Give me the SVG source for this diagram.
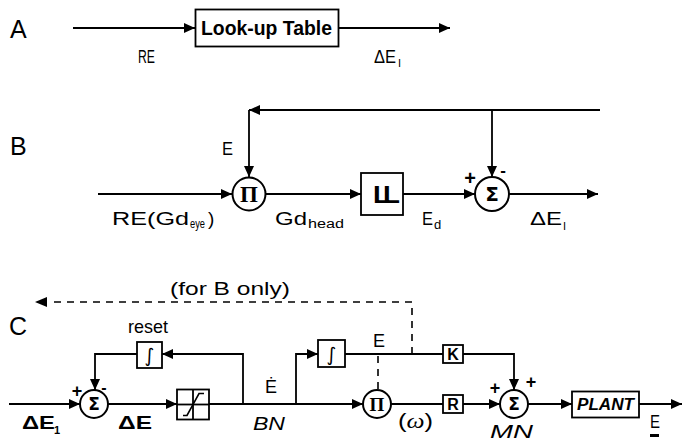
<svg xmlns="http://www.w3.org/2000/svg" width="683" height="443" viewBox="0 0 683 443">
<defs>
<marker id="ah" markerUnits="userSpaceOnUse" markerWidth="12" markerHeight="10" refX="11" refY="5" orient="auto">
<path d="M0,0 L11,5 L0,10 z" fill="#000"/>
</marker>
<style>
.ln{fill:none;stroke:#000;stroke-width:1.8}
.ar{fill:none;stroke:#000;stroke-width:1.8;marker-end:url(#ah)}
.da{fill:none;stroke:#000;stroke-width:1.6;stroke-dasharray:7 6}
.bx{fill:#fff;stroke:#000;stroke-width:1.8}
.ci{fill:#fff;stroke:#000;stroke-width:2}
.t{font-family:"Liberation Sans","DejaVu Sans",sans-serif;fill:#000}
.hd{font-size:25px}
.lb{font-size:19px}
.sb{font-size:12px}
.bd{font-weight:bold}
.it{font-style:italic}
.sym{font-family:"DejaVu Sans","Liberation Sans",sans-serif;fill:#000}
.pi{font-family:"Liberation Serif","DejaVu Serif",serif;font-weight:bold;fill:#000}
</style>
</defs>

<g id="connectors">
<line class="ar" x1="73" y1="28" x2="195" y2="28"/>
<line class="ar" x1="338" y1="28" x2="450" y2="28"/>
<line class="ar" x1="98" y1="194" x2="232" y2="194"/>
<line class="ar" x1="265" y1="194" x2="361" y2="194"/>
<line class="ar" x1="403" y1="194" x2="475" y2="194"/>
<line class="ar" x1="509" y1="194" x2="598" y2="194"/>
<line class="ar" x1="600" y1="110" x2="249" y2="110"/>
<line class="ar" x1="249" y1="110" x2="249" y2="177"/>
<line class="ar" x1="492" y1="110" x2="492" y2="177"/>
<line class="ar" x1="9" y1="404" x2="80" y2="404"/>
<line class="ar" x1="108" y1="404" x2="177" y2="404"/>
<line class="ar" x1="209" y1="404" x2="363" y2="404"/>
<polyline class="ar" points="243,404 243,354 162,354"/>
<polyline class="ar" points="137,354 95,354 95,390"/>
<polyline class="ar" points="296,404 296,354 318,354"/>
<line class="ln" x1="345" y1="354" x2="443" y2="354"/>
<polyline class="ar" points="463,354 514,354 514,390"/>
<line class="ln" x1="391" y1="404" x2="443" y2="404"/>
<line class="ar" x1="463" y1="404" x2="500" y2="404"/>
<line class="ar" x1="528" y1="404" x2="572" y2="404"/>
<line class="ar" x1="639" y1="404" x2="682" y2="404"/>
<polyline class="da" points="412,354 412,302 48,302"/>
<path d="M35,302 L47,297 L47,307 z" fill="#000"/>
<line class="da" x1="378" y1="356" x2="378" y2="390"/>
</g>

<g id="row-labels">
<text class="t hd" x="10" y="38">A</text>
<text class="t hd" x="10" y="155">B</text>
<text class="t hd" x="9" y="335">C</text>
</g>

<g id="lookup-table">
<rect class="bx" x="195.5" y="9.5" width="143" height="37"/>
<text class="t bd" x="201" y="35" font-size="20" textLength="131" lengthAdjust="spacingAndGlyphs">Look-up Table</text>
</g>
<g id="a-labels">
<text class="t lb" x="138" y="63" textLength="17" lengthAdjust="spacingAndGlyphs">RE</text>
<text class="t lb" x="374" y="63" textLength="22" lengthAdjust="spacingAndGlyphs">ΔE</text>
<text class="t" x="398" y="67" font-size="11">I</text>
</g>

<g id="b-pi">
<circle class="ci" cx="249" cy="194" r="16.5"/>
<text class="pi" x="249" y="202" font-size="23" text-anchor="middle">Π</text>
</g>
<g id="b-delay">
<rect class="bx" x="361" y="173" width="42" height="42"/>
<text class="t bd" x="373" y="203" font-size="24" letter-spacing="-6" textLength="20" lengthAdjust="spacingAndGlyphs">LL</text>
</g>
<g id="b-sum">
<circle class="ci" cx="492" cy="194" r="17"/>
<text class="sym bd" x="492" y="201" font-size="20" text-anchor="middle">Σ</text>
<text class="t bd" x="470" y="185" font-size="20" text-anchor="middle">+</text>
<text class="t bd" x="503" y="176" font-size="17" text-anchor="middle">-</text>
</g>
<g id="b-labels">
<text class="t" x="222" y="155" font-size="18" textLength="11" lengthAdjust="spacingAndGlyphs">E</text>
<text class="t lb" x="112" y="225" textLength="77" lengthAdjust="spacingAndGlyphs">RE(Gd</text>
<text class="t" x="190" y="228" font-size="12" textLength="15" lengthAdjust="spacingAndGlyphs">eye</text>
<text class="t lb" x="208" y="225">)</text>
<text class="t lb" x="275" y="225" textLength="32" lengthAdjust="spacingAndGlyphs">Gd</text>
<text class="t" x="308" y="228" font-size="12" textLength="36" lengthAdjust="spacingAndGlyphs">head</text>
<text class="t lb" x="422" y="225" textLength="11" lengthAdjust="spacingAndGlyphs">E</text>
<text class="t" x="434" y="229" font-size="13">d</text>
<text class="t lb" x="530" y="225" textLength="32" lengthAdjust="spacingAndGlyphs">ΔE</text>
<text class="t" x="563" y="230" font-size="11">I</text>
</g>

<g id="c-sum1">
<circle class="ci" cx="94" cy="404" r="14"/>
<text class="sym bd" x="94" y="410" font-size="17" text-anchor="middle">Σ</text>
<text class="t bd" x="77" y="397" font-size="18" text-anchor="middle">+</text>
<text class="t bd" x="104" y="393" font-size="16" text-anchor="middle">-</text>
</g>
<g id="c-reset-integrator">
<rect class="bx" x="137" y="342" width="25" height="26"/>
<text class="sym" x="149.5" y="362" font-size="19" text-anchor="middle">∫</text>
</g>
<g id="c-saturation">
<rect class="bx" x="177" y="389.5" width="32" height="30"/>
<line class="ln" x1="177" y1="404.5" x2="209" y2="404.5" stroke-width="1.4"/>
<line class="ln" x1="193" y1="389.5" x2="193" y2="419.5" stroke-width="1.4"/>
<path d="M183,415.5 L187,415.5 L199,393.5 L204,393.5" fill="none" stroke="#000" stroke-width="1.6"/>
</g>
<g id="c-integrator">
<rect class="bx" x="318" y="340" width="27" height="27"/>
<text class="sym" x="331.5" y="361" font-size="19" text-anchor="middle">∫</text>
</g>
<g id="c-pi">
<circle class="ci" cx="377" cy="404" r="14"/>
<text class="pi" x="377" y="411" font-size="19" text-anchor="middle">Π</text>
</g>
<g id="c-k">
<rect class="bx" x="443" y="345" width="20" height="18"/>
<text class="t bd" x="453" y="360" font-size="16" text-anchor="middle">K</text>
</g>
<g id="c-r">
<rect class="bx" x="443" y="395" width="20" height="18"/>
<text class="t bd" x="453" y="410" font-size="16" text-anchor="middle">R</text>
</g>
<g id="c-sum-mn">
<circle class="ci" cx="514" cy="404" r="14"/>
<text class="sym bd" x="514" y="410" font-size="17" text-anchor="middle">Σ</text>
<text class="t bd" x="495" y="394" font-size="18" text-anchor="middle">+</text>
<text class="t bd" x="531" y="388" font-size="18" text-anchor="middle">+</text>
</g>
<g id="c-plant">
<rect class="bx" x="572" y="391.5" width="67" height="26"/>
<text class="t bd it" x="577" y="410" font-size="16" textLength="57" lengthAdjust="spacingAndGlyphs">PLANT</text>
</g>
<g id="c-labels">
<text class="t lb" x="170" y="295" textLength="120" lengthAdjust="spacingAndGlyphs">(for B only)</text>
<text class="t lb" x="128" y="333" textLength="40" lengthAdjust="spacingAndGlyphs">reset</text>
<text class="t bd" x="22" y="429" font-size="18" textLength="33" lengthAdjust="spacingAndGlyphs">ΔE</text>
<text class="t bd" x="54" y="434" font-size="11">1</text>
<text class="t bd" x="118" y="429" font-size="18" textLength="34" lengthAdjust="spacingAndGlyphs">ΔE</text>
<text class="t lb" x="265" y="393" textLength="12" lengthAdjust="spacingAndGlyphs">Ė</text>
<text class="t lb it" x="253" y="430" textLength="32" lengthAdjust="spacingAndGlyphs">BN</text>
<text class="t" x="373" y="347" font-size="18" textLength="12" lengthAdjust="spacingAndGlyphs">E</text>
<text class="t" x="398" y="428" font-size="20" textLength="35" lengthAdjust="spacingAndGlyphs">(<tspan font-family="Liberation Serif, serif" font-style="italic">ω</tspan>)</text>
<text class="t lb it" x="490" y="438" textLength="43" lengthAdjust="spacingAndGlyphs">MN</text>
<text class="t" x="650" y="428" font-size="18" textLength="10" lengthAdjust="spacingAndGlyphs">E</text>
<rect x="650" y="434" width="9" height="3" fill="#000"/>
</g>
</svg>
